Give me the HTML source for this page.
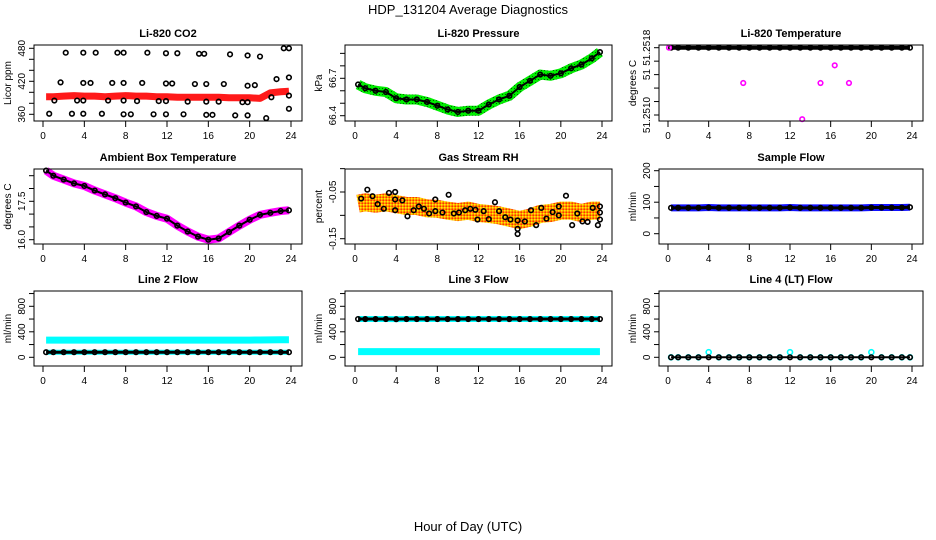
<!DOCTYPE html>
<html><head><meta charset="utf-8"><style>
html,body{margin:0;padding:0;background:#fff}
svg{display:block}
text{font-family:"Liberation Sans",sans-serif;fill:#000}
</style></head><body>
<svg id="chart" width="936" height="540" viewBox="0 0 936 540">
<defs>
<pattern id="greenDots" width="3" height="3" patternUnits="userSpaceOnUse"><rect width="3" height="3" fill="#00ee00"/><rect x="1" y="1" width="1" height="1" fill="#006000"/></pattern>
<pattern id="orangeDots" width="3" height="3" patternUnits="userSpaceOnUse"><rect width="3" height="3" fill="#ff9900"/><rect x="0" y="0" width="1.5" height="1.5" fill="#ffee00"/><rect x="1.5" y="1.5" width="1.5" height="1.5" fill="#ff3300"/></pattern>
</defs>
<text x="468" y="14" text-anchor="middle" font-size="13">HDP_131204  Average Diagnostics</text>
<text x="468" y="531" text-anchor="middle" font-size="13">Hour of Day (UTC)</text>
</svg>
<script>
const hours=[0.3,1,2,3,4,5,6,7,8,9,10,11,12,13,14,15,16,17,18,19,20,21,22,23,23.8];
const co2Band=[392,392,393,394,393,393,392,393,394,393,393,392,392,391,391,391,391,391,390,390,390,389,399,401,402];
const co2PtsX=[2.2,3.9,5.1,7.2,7.8,10.1,11.9,13,15.1,15.6,18.1,19.8,21,23.3,23.8,1.7,3.9,4.6,6.7,7.8,9.6,11.9,12.5,14.7,15.8,17.5,19.8,20.5,22.6,23.8,1.1,3.3,3.9,6.3,7.8,9.1,11.2,11.9,14,15.8,17,19.3,19.8,22.1,23.8,0.6,2.8,3.9,5.7,7.8,8.5,10.7,11.9,13.6,15.8,16.4,18.6,19.8,21.6,23.8];
const co2PtsY=[472,472,472,472,472,472,471,471,470,470,469,467,465,480,480,418,417,417,417,417,417,416,416,415,415,415,412,413,424,427,385,385,385,385,385,384,384,384,383,383,383,382,382,391,394,361,361,361,361,360,360,360,360,360,359,359,358,358,353,370];
const pressure=[66.65,66.62,66.6,66.59,66.54,66.53,66.53,66.51,66.48,66.45,66.43,66.44,66.44,66.49,66.53,66.56,66.63,66.68,66.73,66.72,66.74,66.78,66.81,66.86,66.91];
const tempBlack=[51.2518,51.2518,51.2518,51.2518,51.2518,51.2518,51.2518,51.2518,51.2518,51.2518,51.2518,51.2518,51.2518,51.2518,51.2518,51.2518,51.2518,51.2518,51.2518,51.2518,51.2518,51.2518,51.2518,51.2518,51.2518];
const tempPinkX=[0.1,7.4,13.2,15,16.4,17.8];
const tempPinkY=[51.2518,51.25138,51.25095,51.25138,51.25159,51.25138];
const ambient=[18.7,18.5,18.35,18.2,18.1,17.92,17.77,17.62,17.45,17.3,17.08,16.93,16.82,16.55,16.32,16.12,16.0,16.05,16.3,16.55,16.78,16.97,17.05,17.12,17.15];
const rhMean=[-0.075,-0.072,-0.075,-0.072,-0.076,-0.08,-0.08,-0.085,-0.086,-0.09,-0.093,-0.09,-0.095,-0.097,-0.1,-0.105,-0.11,-0.105,-0.097,-0.095,-0.09,-0.09,-0.095,-0.09,-0.09];
const rhPtsX=[0.6,1.2,1.7,2.2,2.8,3.3,3.9,3.9,3.9,4.6,5.1,5.7,6.2,6.7,7.2,7.8,7.8,8.5,9.1,9.6,10.1,10.7,11.2,11.7,11.9,12.5,13,13.6,14,14.6,15.1,15.8,15.8,15.8,16.5,17.1,17.6,18.1,18.6,19.2,19.8,19.8,20.5,21.1,21.6,22.1,22.6,23.1,23.6,23.8,23.8,23.8];
const rhPtsY=[-0.064,-0.045,-0.059,-0.076,-0.086,-0.052,-0.05,-0.066,-0.089,-0.068,-0.102,-0.089,-0.081,-0.086,-0.096,-0.066,-0.091,-0.094,-0.056,-0.096,-0.094,-0.089,-0.086,-0.088,-0.109,-0.091,-0.108,-0.072,-0.091,-0.104,-0.109,-0.111,-0.129,-0.14,-0.113,-0.089,-0.121,-0.084,-0.107,-0.093,-0.081,-0.1,-0.058,-0.121,-0.096,-0.113,-0.114,-0.084,-0.121,-0.081,-0.094,-0.109];
const sampleFlow=[82,82,82,82,83,82,82,82,82,82,82,82,83,82,82,82,82,82,82,82,83,83,83,83,84];
const line2Cyan=[270,270,270,270,270,270,270,270,270,270,270,270,270,270,270,270,270,270,270,270,270,272,274,276,276];
const line2Black=[80,80,80,80,80,80,80,80,80,80,80,80,80,80,80,80,80,80,80,80,80,80,80,80,80];
const line3Black=[600,600,600,600,598,600,600,600,600,600,600,600,600,600,600,600,600,600,600,600,600,600,600,600,600];
const line3Cyan=[90,90,90,90,90,90,90,90,90,90,90,90,90,90,90,90,90,90,90,90,90,90,90,90,90];
const line4Black=[0,0,0,0,0,0,0,0,0,0,0,0,0,0,0,0,0,0,0,0,0,0,0,0,0];
const line4Cyan=[0,0,0,0,80,0,0,0,0,0,0,0,80,0,0,0,0,0,0,0,80,0,0,0,0];
const xTicks=[0,4,8,12,16,20,24];

const NS="http://www.w3.org/2000/svg";
const svg=document.getElementById('chart');
function mk(tag,attrs,parent){const e=document.createElementNS(NS,tag);for(const k in attrs)e.setAttribute(k,attrs[k]);(parent||svg).appendChild(e);return e;}
const cols=[{l:34,r:302,x0:43,x24:291},{l:345,r:612,x0:355,x24:602},{l:659,r:923,x0:668,x24:912}];
const rows=[{t:45,b:121},{t:169,b:244},{t:291,b:366}];

function panel(p){
  const c=cols[p.col],r=rows[p.row];
  const g=mk('g',{});
  
  
  const X=h=>c.x0+(h/24)*(c.x24-c.x0);
  const Y=v=>p.py0+(v-p.v0)/(p.v1-p.v0)*(p.py1-p.py0);
  const t=mk('text',{x:(c.l+c.r)/2,y:r.t-8,'text-anchor':'middle','font-size':11,'font-weight':'bold'},g);
  t.textContent=p.title;
  
  
  p.series.forEach(s=>{
    if(s.type==='band'){
      const pl=mk('polyline',{points:s.y.map((v,i)=>X(hours[i])+','+Y(v)).join(' '),fill:'none',stroke:s.color,'stroke-width':s.w,'stroke-linejoin':'round','stroke-linecap':'butt'},g);
      
      
    }
    if(s.type==='pts'){
      const xs=s.x||hours;
      s.y.forEach((v,i)=>{
        const ci=mk('circle',{cx:X(xs[i]),cy:Y(v),r:s.r||2.3,fill:'none',stroke:s.color,'stroke-width':1.6},g);
        
        
      });
    }
  });
  const box=mk('rect',{x:c.l,y:r.t,width:c.r-c.l,height:r.b-r.t,fill:'none',stroke:'#000','stroke-width':1},g);
  
  
  xTicks.forEach(h=>{
    mk('line',{x1:X(h),x2:X(h),y1:r.b,y2:r.b+6,stroke:'#000'},g);
    const tx=mk('text',{x:X(h),y:r.b+18,'text-anchor':'middle','font-size':10},g);
    tx.textContent=h;
    
    
  });
  p.ticks.forEach(v=>{mk('line',{x1:c.l-5,x2:c.l,y1:Y(v),y2:Y(v),stroke:'#000'},g);});
  p.labels.forEach((lab,i)=>{
    const y=Y(p.labelVals[i]);
    const ty=mk('text',{x:0,y:0,'text-anchor':'middle','font-size':10,transform:`translate(${c.l-9},${y}) rotate(-90)`},g);
    ty.textContent=lab;
    
    
  });
  const yt=mk('text',{x:0,y:0,'text-anchor':'middle','font-size':10,transform:`translate(${c.l-23},${(r.t+r.b)/2}) rotate(-90)`},g);
  yt.textContent=p.ylab;
  
  
}

panel({name:'co2-panel',col:0,row:0,title:'Li-820 CO2',ylab:'Licor ppm',v0:360,py0:114.3,v1:480,py1:48.3,
  ticks:[360,380,400,420,440,460,480],labels:['360','420','480'],labelVals:[360,420,480],
  series:[{type:'band',name:'co2-band',y:co2Band,color:'#ff1a1a',w:7},{type:'pts',name:'co2-black',x:co2PtsX,y:co2PtsY,color:'#000'}]});
panel({name:'pressure-panel',col:1,row:0,title:'Li-820 Pressure',ylab:'kPa',v0:66.4,py0:115.7,v1:66.7,py1:78.3,
  ticks:[66.4,66.5,66.6,66.7,66.8,66.9],labels:['66.4','66.7'],labelVals:[66.4,66.7],
  series:[{type:'band',name:'pressure-band',y:pressure,color:'url(#greenDots)',w:10},{type:'pts',name:'pressure-black',y:pressure,color:'#000'},{type:'band',name:'pressure-line',y:pressure,color:'#000',w:2}]});
panel({name:'temperature-panel',col:2,row:0,title:'Li-820 Temperature',ylab:'degrees C',v0:51.2510,py0:115,v1:51.2518,py1:47.7,
  ticks:[51.2510,51.25116,51.25132,51.25148,51.25164,51.2518],labels:['51.2510','51','51.2518'],labelVals:[51.2510,51.25148,51.2518],
  series:[{type:'band',name:'temp-black-band',y:tempBlack,color:'#000',w:4},{type:'pts',name:'temp-black',y:tempBlack,color:'#000'},{type:'pts',name:'temp-magenta',x:tempPinkX,y:tempPinkY,color:'#ff00ff'}]});
panel({name:'ambient-panel',col:0,row:1,title:'Ambient Box Temperature',ylab:'degrees C',v0:16.0,py0:239.7,v1:17.5,py1:201.3,
  ticks:[16.0,16.5,17.0,17.5,18.0,18.5],labels:['16.0','17.5'],labelVals:[16.0,17.5],
  series:[{type:'band',name:'ambient-band',y:ambient,color:'#ff00ff',w:8},{type:'band',name:'ambient-line',y:ambient,color:'#000',w:2},{type:'pts',name:'ambient-black',y:ambient,color:'#000'}]});
panel({name:'rh-panel',col:1,row:1,title:'Gas Stream RH',ylab:'percent',v0:-0.15,py0:238.7,v1:-0.05,py1:192,
  ticks:[-0.15,-0.10,-0.05,0],labels:['-0.15','-0.05'],labelVals:[-0.15,-0.05],
  series:[{type:'band',name:'rh-band',y:rhMean,color:'url(#orangeDots)',w:18},{type:'pts',name:'rh-black',x:rhPtsX,y:rhPtsY,color:'#000'}]});
panel({name:'sample-flow-panel',col:2,row:1,title:'Sample Flow',ylab:'ml/min',v0:0,py0:233.7,v1:200,py1:170.7,
  ticks:[0,50,100,150,200],labels:['0','100','200'],labelVals:[0,100,200],
  series:[{type:'band',name:'sample-band',y:sampleFlow,color:'#1010ff',w:7},{type:'band',name:'sample-line',y:sampleFlow,color:'#000',w:3},{type:'pts',name:'sample-black',y:sampleFlow,color:'#000'}]});
const fl={v0:0,py0:357.3,v1:800,py1:306.3,ticks:[0,200,400,600,800,1000],labels:['0','400','800'],labelVals:[0,400,800],ylab:'ml/min'};
panel(Object.assign({name:'line2-panel',col:0,row:2,title:'Line 2 Flow',
  series:[{type:'band',name:'line2-cyan',y:line2Cyan,color:'#00ffff',w:7},{type:'band',name:'line2-cyan-low',y:line2Black,color:'#00ffff',w:5},{type:'band',name:'line2-line',y:line2Black,color:'#000',w:3},{type:'pts',name:'line2-black',y:line2Black,color:'#000'}]},fl));
panel(Object.assign({name:'line3-panel',col:1,row:2,title:'Line 3 Flow',
  series:[{type:'band',name:'line3-cyan',y:line3Cyan,color:'#00ffff',w:7},{type:'band',name:'line3-cyan-high',y:line3Black,color:'#00ffff',w:6},{type:'band',name:'line3-line',y:line3Black,color:'#000',w:3},{type:'pts',name:'line3-black',y:line3Black,color:'#000'}]},fl));
panel(Object.assign({name:'line4-panel',col:2,row:2,title:'Line 4 (LT) Flow',
  series:[{type:'pts',name:'line4-cyan',y:line4Cyan,color:'#00ffff',r:2.5},{type:'band',name:'line4-line',y:line4Black,color:'#000',w:2},{type:'pts',name:'line4-black',y:line4Black,color:'#000'}]},fl));
</script>
</body></html>
